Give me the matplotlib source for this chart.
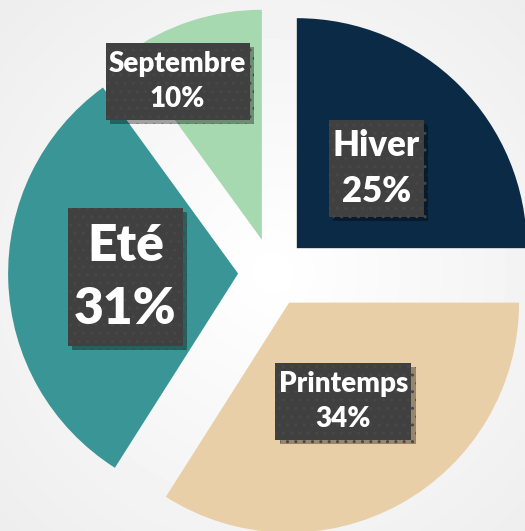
import numpy as np
import matplotlib.pyplot as plt
import matplotlib.patheffects as pe
from matplotlib.patches import Rectangle

# data
saisons = ["Hiver", "Printemps", "Eté", "Septembre"]
parts = [25, 34, 31, 10]
couleurs = ["#0b2a45", "#e9cfa7", "#3a9696", "#a6d9b0"]
tailles = [25, 20, 37, 20]
dist_labels = [0.49, 0.49, 0.49, 0.78]
decal_angle = [0, 0, 0, 10]

W, H = 525, 531
fig = plt.figure(figsize=(W / 100, H / 100), dpi=100)
ax = fig.add_axes([0, 0, 1, 1])

# light radial background
yy, xx = np.mgrid[0:H, 0:W]
rr = np.hypot(xx - 272, yy - 272) / 380
bg = 1 - 0.07 * np.clip(rr, 0, 1)
ax.imshow(bg, cmap="gray", vmin=0, vmax=1, extent=(0, W, 0, H), zorder=0)

cx, cy, R = 272.5, H - 272.5, 230
wedges, _ = ax.pie(parts, colors=couleurs, startangle=90, counterclock=False,
                   center=(cx, cy), radius=R, explode=[34.4] * 4,
                   wedgeprops=dict(linewidth=0, zorder=1))
ax.set_xlim(0, W)
ax.set_ylim(0, H)
ax.set_aspect("auto")
ax.axis("off")

textes = []
for w, nom, p, fs, d, da in zip(wedges, saisons, parts, tailles, dist_labels, decal_angle):
    ang = np.deg2rad((w.theta1 + w.theta2) / 2 + da)
    x0, y0 = w.center
    t = ax.text(x0 + d * R * np.cos(ang), y0 + d * R * np.sin(ang),
                f"{nom}\n{p}%", ha="center", va="center", color="white",
                fontsize=fs, fontweight="heavy", family=["Lato", "DejaVu Sans"],
                linespacing=1.45, zorder=5)
    textes.append(t)

# dark label boxes with a faint dot pattern and a drop shadow
fig.canvas.draw()
inv = ax.transData.inverted()
for t in textes:
    fs_px = t.get_fontsize() * 100 / 72
    bb = t.get_window_extent().transformed(inv)
    padx, pady = 0.12 * fs_px, 0.28 * fs_px
    r = Rectangle((bb.x0 - padx, bb.y0 - pady), bb.width + 2 * padx, bb.height + 2 * pady,
                  facecolor="#404040", edgecolor="#474747", linewidth=0, hatch="..",
                  zorder=4)
    r.set_path_effects([pe.SimplePatchShadow(offset=(3, -3), shadow_rgbFace="black", alpha=0.35),
                        pe.Normal()])
    ax.add_patch(r)

fig.savefig("out.png", dpi=100)
